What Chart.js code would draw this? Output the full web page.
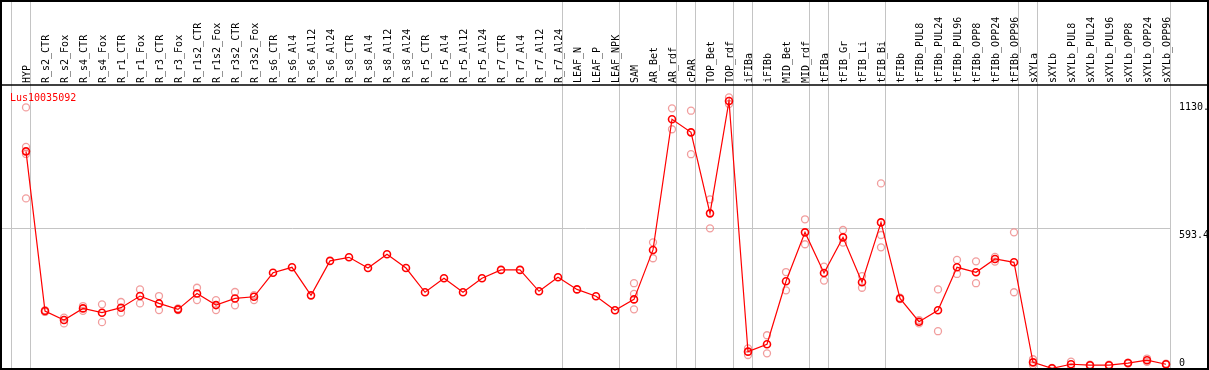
<!DOCTYPE html>
<html>
<head>
<meta charset="utf-8">
<script src="https://cdn.jsdelivr.net/npm/chart.js@4"></script>
<style>
  html, body { margin: 0; padding: 0; background: #fff; }
  #wrap { width: 1209px; height: 370px; position: relative; }
</style>
</head>
<body>
<div id="wrap"><canvas id="miGrafico"></canvas></div>
<script>
// categorias (muestras)
var categorias = ['HYP', 'R_s2_CTR', 'R_s2_Fox', 'R_s4_CTR', 'R_s4_Fox', 'R_r1_CTR', 'R_r1_Fox',
  'R_r3_CTR', 'R_r3_Fox', 'R_r1s2_CTR', 'R_r1s2_Fox', 'R_r3s2_CTR', 'R_r3s2_Fox', 'R_s6_CTR',
  'R_s6_Al4', 'R_s6_Al12', 'R_s6_Al24', 'R_s8_CTR', 'R_s8_Al4', 'R_s8_Al12', 'R_s8_Al24',
  'R_r5_CTR', 'R_r5_Al4', 'R_r5_Al12', 'R_r5_Al24', 'R_r7_CTR', 'R_r7_Al4', 'R_r7_Al12', 'R_r7_Al24',
  'LEAF_N', 'LEAF_P', 'LEAF_NPK', 'SAM', 'AR_Bet', 'AR_rdf', 'cPAR', 'TOP_Bet', 'TOP_rdf',
  'iFIBa', 'iFIBb', 'MID_Bet', 'MID_rdf', 'tFIBa', 'tFIB_Gr', 'tFIB_Li', 'tFIB_Bi', 'tFIBb',
  'tFIBb_PUL8', 'tFIBb_PUL24', 'tFIBb_PUL96', 'tFIBb_OPP8', 'tFIBb_OPP24', 'tFIBb_OPP96',
  'sXYLa', 'sXYLb', 'sXYLb_PUL8', 'sXYLb_PUL24', 'sXYLb_PUL96', 'sXYLb_OPP8', 'sXYLb_OPP24', 'sXYLb_OPP96'];

var nombreSerie = 'Lus10035092';

// medias
var medias = [916, 244, 206, 255, 237, 258, 307, 276, 251, 318, 269, 297, 304, 405,
  428, 310, 455, 470, 425, 483, 425, 323, 382, 323, 382, 417, 417, 327, 386,
  335, 306, 247, 293, 501, 1051, 996, 655, 1128, 73, 104, 369, 575, 404, 554, 365, 617, 297,
  199, 247, 428, 407, 463, 449, 28, 3, 20, 16, 16, 25, 37, 20];

// replicas
var rep1 = [1101, 240, 216, 265, 272, 282, 335, 307, 255, 342, 290, 324, 311, null,
  null, null, null, null, null, null, null, null, null, null, null, null, null, null, null,
  null, null, null, 361, 533, 1097, 1087, 714, 1143, 87, 142, 408, 630, 431, 585, 391, 781, 300,
  206, 335, 459, 453, 452, 575, 41, 5, 31, 18, 18, 27, 44, 22];
var rep2 = [935, 248, 192, 245, 197, 237, 276, 248, 248, 290, 248, 268, 290, null,
  null, null, null, null, null, null, null, null, null, null, null, null, null, null, null,
  null, null, null, 316, 466, 1009, 904, 592, 1115, 59, 66, 331, 525, 372, 532, 342, 564, 294,
  192, 159, 400, 361, 472, 323, 17, 1, 9, 14, 14, 23, 30, 18];
var rep3 = [718, null, null, null, null, null, null, null, null, null, null, null, null, null,
  null, null, null, null, null, null, null, null, null, null, null, null, null, null, null,
  null, null, null, 251, null, null, null, null, null, null, null, null, null, null, null, null, 512, null,
  null, null, null, null, null, null, null, null, null, null, null, null, null, null];
var rep4 = [905];

// ejes
var ticksY = [0, 593.4, 1130.7];
var lineasY = [593.4];
var finGrupos = [-1, 0, 28, 31, 34, 35, 37, 38, 41, 42, 45, 52, 53, 60];

var fuente = '10px "DejaVu Sans Mono", "Liberation Mono", monospace';

function puntos(arr) {
  var out = [];
  arr.forEach(function (v, i) { if (v !== null && v !== undefined) out.push({ x: i, y: v }); });
  return out;
}

// dibuja rejilla, etiquetas y marco
var marco = {
  id: 'marco',
  beforeDatasetsDraw: function (chart) {
    var ctx = chart.ctx, sx = chart.scales.x, sy = chart.scales.y, a = chart.chartArea;
    ctx.save();
    ctx.strokeStyle = '#c4c4c4';
    ctx.lineWidth = 1;
    lineasY.forEach(function (v) {
      var py = Math.round(sy.getPixelForValue(v)) + 0.5;
      ctx.beginPath(); ctx.moveTo(0, py); ctx.lineTo(a.right, py); ctx.stroke();
    });
    finGrupos.forEach(function (i) {
      var px = Math.round(sx.getPixelForValue(i + 0.2)) + 0.5;
      ctx.beginPath(); ctx.moveTo(px, 0); ctx.lineTo(px, a.bottom); ctx.stroke();
    });
    ctx.restore();
  },
  afterDraw: function (chart) {
    var ctx = chart.ctx, sx = chart.scales.x, sy = chart.scales.y, a = chart.chartArea;
    ctx.save();
    ctx.font = fuente;
    ctx.fillStyle = '#000';
    // etiquetas verticales
    categorias.forEach(function (c, i) {
      var px = sx.getPixelForValue(i);
      ctx.save();
      ctx.translate(px + 4, a.top - 3);
      ctx.rotate(-Math.PI / 2);
      ctx.textAlign = 'left';
      ctx.textBaseline = 'alphabetic';
      ctx.fillText(c, 0, 0);
      ctx.restore();
    });
    // etiquetas eje y
    ctx.textAlign = 'left';
    ctx.textBaseline = 'top';
    ticksY.forEach(function (v) {
      var py = Math.min(sy.getPixelForValue(v) + 2, a.bottom - 11);
      ctx.fillText(String(v), a.right + 8, py);
    });
    // nombre de la serie
    ctx.fillStyle = '#ff0000';
    ctx.textBaseline = 'alphabetic';
    ctx.fillText(nombreSerie, a.left + 9, a.top + 15);
    // marco
    ctx.strokeStyle = '#000';
    ctx.lineWidth = 2;
    ctx.strokeRect(1, 1, chart.width - 2, chart.height - 2);
    ctx.lineWidth = 1.5;
    ctx.beginPath(); ctx.moveTo(0, a.top - 1); ctx.lineTo(chart.width, a.top - 1); ctx.stroke();
    ctx.restore();
  }
};

var repEstilo = {
  showLine: false,
  pointRadius: 3.5,
  pointBorderWidth: 1.3,
  pointBorderColor: 'rgba(238,140,140,0.85)',
  pointBackgroundColor: 'rgba(0,0,0,0)',
  clip: false
};

new Chart(document.getElementById('miGrafico').getContext('2d'), {
  type: 'line',
  data: {
    datasets: [
      {
        label: nombreSerie,
        data: puntos(medias),
        borderColor: '#ff0000',
        borderWidth: 1.2,
        pointRadius: 3.5,
        pointBorderWidth: 1.6,
        pointBorderColor: '#ff0000',
        pointBackgroundColor: 'rgba(0,0,0,0)',
        tension: 0,
        clip: false
      },
      Object.assign({ data: puntos(rep1) }, repEstilo),
      Object.assign({ data: puntos(rep2) }, repEstilo),
      Object.assign({ data: puntos(rep3) }, repEstilo),
      Object.assign({ data: puntos(rep4) }, repEstilo)
    ]
  },
  options: {
    responsive: true,
    maintainAspectRatio: false,
    animation: false,
    devicePixelRatio: 1,
    layout: { autoPadding: false, padding: { left: 1, right: 38, top: 86, bottom: 1 } },
    plugins: { legend: { display: false }, tooltip: { enabled: false } },
    scales: {
      x: { type: 'linear', display: false, min: -25 / 19, max: 60 + 5 / 19 },
      y: { type: 'linear', display: false, min: 0, max: 1191 }
    }
  },
  plugins: [marco]
});
</script>
</body>
</html>
